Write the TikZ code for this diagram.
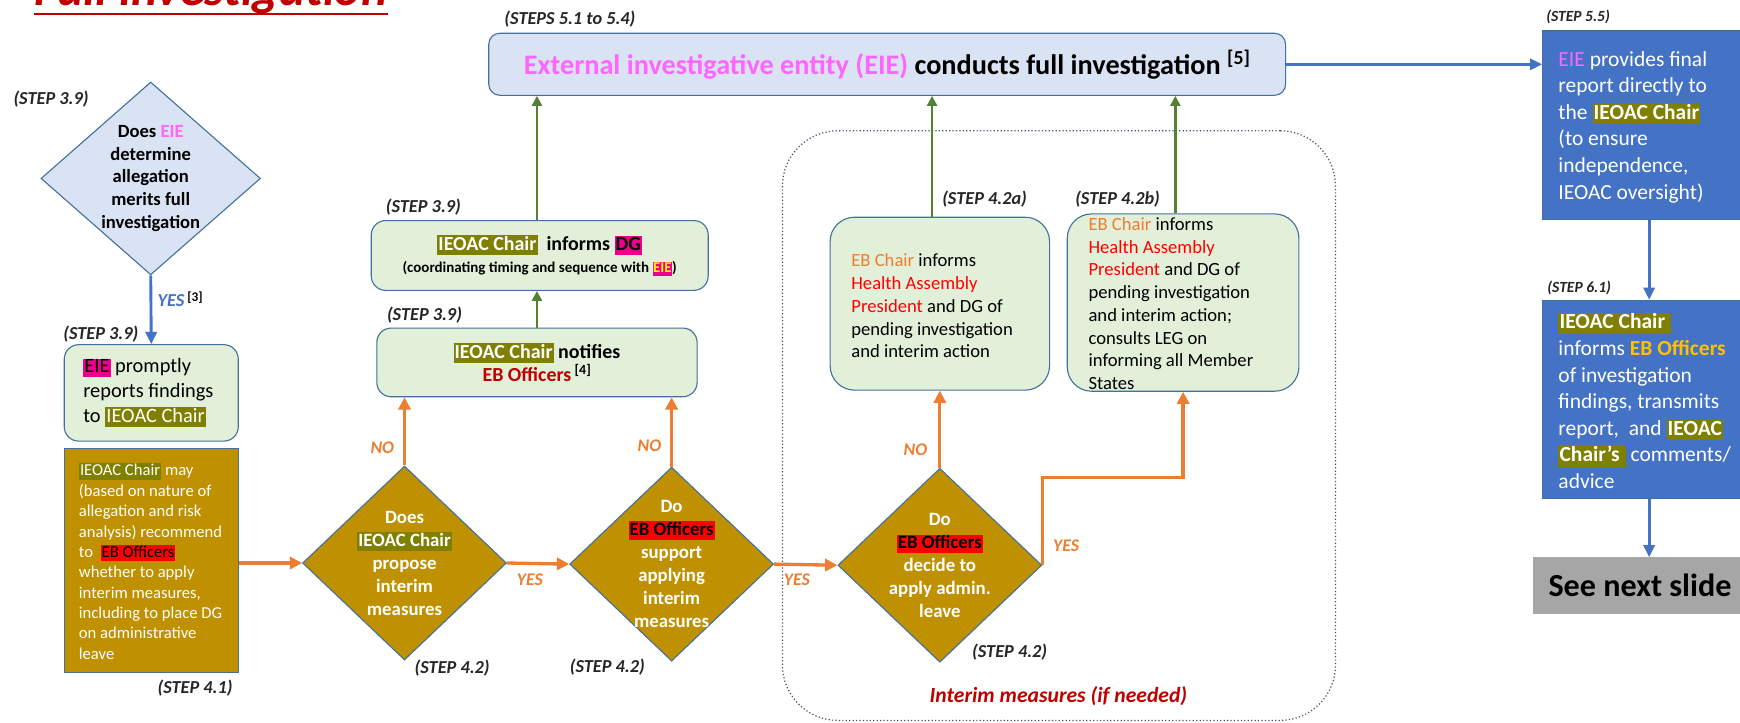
\documentclass[tikz,border=0pt]{standalone}
\usepackage{fontspec}
\setmainfont{Carlito}
\usepackage{graphicx}
\usetikzlibrary{shapes.geometric,arrows.meta}
\definecolor{lightblue}{HTML}{DAE3F3}
\definecolor{edgeblue}{HTML}{41719C}
\definecolor{boxgreen}{HTML}{E2F0D9}
\definecolor{brownf}{HTML}{BF9000}
\definecolor{hlolive}{HTML}{7F7F00}
\definecolor{eiepink}{HTML}{FF66FF}
\definecolor{darkred}{HTML}{C00000}
\definecolor{orng}{HTML}{ED7D31}
\definecolor{grn}{HTML}{548235}
\definecolor{blu}{HTML}{4472C4}
\definecolor{greyf}{HTML}{A6A6A6}
\definecolor{goldc}{HTML}{FFC000}
\definecolor{dotc}{HTML}{44546A}
\newcommand{\hlO}[1]{{\setlength{\fboxsep}{1pt}\colorbox{hlolive}{\vphantom{Ag}\textcolor{white}{#1}}}}
\newcommand{\hlM}[1]{{\setlength{\fboxsep}{1pt}\colorbox{magenta}{\vphantom{Ag}\textcolor{black}{#1}}}}
\newcommand{\hlR}[1]{{\setlength{\fboxsep}{1pt}\colorbox{red}{\vphantom{Ag}\textcolor{black}{#1}}}}
\newcommand{\hlY}[1]{{\setlength{\fboxsep}{0.5pt}\colorbox{magenta}{\vphantom{Ag}\textcolor{yellow}{#1}}}}
\tikzset{
 steplbl/.style={anchor=west, inner sep=0pt, font=\fontsize{16.5}{19}\selectfont\bfseries\itshape, text=black!85},
 stepsm/.style={anchor=west, inner sep=0pt, font=\fontsize{14}{17}\selectfont\bfseries\itshape, text=black!85},
 ansO/.style={inner sep=0pt, font=\fontsize{16}{19}\selectfont\bfseries\itshape, text=orng},
 gbox/.style={draw=edgeblue, fill=boxgreen, line width=1pt, rounded corners=13pt, inner sep=0pt},
 bbox/.style={draw=edgeblue, fill=blu, line width=1pt, inner sep=0pt},
 dblue/.style={diamond, draw=edgeblue, fill=lightblue, line width=1pt, inner sep=0pt, minimum width=198pt, minimum height=174pt},
 dbrown/.style={diamond, draw=edgeblue, fill=brownf, line width=1pt, inner sep=0pt, minimum width=184pt, minimum height=175pt},
 dtxt/.style={align=center, inner sep=0pt, font=\fontsize{17}{20.7}\selectfont\bfseries, text=white},
 ltxt/.style={anchor=west, align=left, inner sep=0pt},
 oarrow/.style={draw=orng, line width=3pt, -{Triangle[length=11pt,width=11pt]}},
 garrow/.style={draw=grn, line width=2.2pt, -{Triangle[length=9pt,width=9pt]}},
 barrow/.style={draw=blu, line width=2.6pt, -{Triangle[length=11pt,width=10pt]}},
}
\begin{document}
\begin{tikzpicture}[x=1pt,y=-1pt]
\useasboundingbox (0,0) rectangle (1570,651.5);
\clip (0,0) rectangle (1570,651.5);
\fill[white] (0,0) rectangle (1570,651.5);

% title (cut off by the page top, as in the reference)
\node[anchor=base west, inner sep=0pt, font=\fontsize{45}{52}\selectfont\bfseries\itshape, text=darkred] (title) at (31,5) {Full investigation};
\draw[darkred, line width=2.2pt] ([yshift=-7.5pt]title.base west) -- ([yshift=-7.5pt]title.base east);

% interim measures frame
\node[draw=dotc, dotted, line width=1.1pt, rounded corners=50pt, minimum width=499pt, minimum height=532pt, inner sep=0pt] (im) at (955.5,384) {};
\node[inner sep=0pt, font=\fontsize{19.5}{23}\selectfont\bfseries\itshape, text=darkred] (imlbl) at (955,628) {Interim measures (if needed)};

% top box
\node[draw=edgeblue, fill=lightblue, line width=1pt, rounded corners=10pt, minimum width=719pt, minimum height=56pt, inner sep=0pt, font=\fontsize{25.5}{30}\selectfont\bfseries] (T) at (800.5,58) {{\color{eiepink}External investigative entity (EIE)} conducts full investigation \textsuperscript{[5]}};
\node[stepsm, font=\fontsize{16.5}{19}\selectfont\bfseries\itshape] (sT) at (455,17) {(STEPS 5.1 to 5.4)};

% diamond 1
\node[dblue] (d1) at (136,161) {};
\node[dtxt, text=black, font=\fontsize{16.8}{20.5}\selectfont\bfseries] (d1t) at (136,161) {Does {\color{eiepink}EIE}\\determine\\allegation\\merits full\\investigation};
\node[steplbl] (sd1) at (12,89) {(STEP 3.9)};

% EIE box
\node[gbox, minimum width=157pt, minimum height=87pt] (e1) at (136.5,354.5) {};
\node[ltxt, font=\fontsize{18.4}{22.5}\selectfont] (e1t) at (75,354.5) {\hlM{EIE} promptly\\reports findings\\to \hlO{IEOAC Chair}};
\node[steplbl] (se1) at (57,301) {(STEP 3.9)};

% brown box
\node[draw=edgeblue, fill=brownf, line width=1pt, minimum width=157pt, minimum height=202pt, inner sep=0pt] (b1) at (136.5,506) {};
\node[ltxt, text=white, font=\fontsize{15}{18.4}\selectfont] (b1t) at (71,506.5) {\hlO{IEOAC Chair} may\\(based on nature of\\allegation and risk\\analysis) recommend\\to\ \ \hlR{EB Officers}\\whether to apply\\interim measures,\\including to place DG\\on administrative\\leave};
\node[steplbl] (sb1) at (142,621) {(STEP 4.1)};

% decision diamonds
\node[dbrown] (d2) at (365,508) {};
\node[dtxt] (d2t) at (365,508.5) {Does\\\hlO{IEOAC Chair}\\propose\\interim\\measures};
\node[steplbl] (sd2) at (374,603) {(STEP 4.2)};

\node[dbrown] (d3) at (606,509) {};
\node[dtxt] (d3t) at (606,509) {Do\\\hlR{EB Officers}\\support\\applying\\interim\\measures};
\node[steplbl] (sd3) at (514,602) {(STEP 4.2)};

\node[dbrown] (d4) at (848,510) {};
\node[dtxt] (d4t) at (848,510.5) {Do\\\hlR{EB Officers}\\decide to\\apply admin.\\leave};
\node[steplbl] (sd4) at (877,588) {(STEP 4.2)};

% notifies / informs DG
\node[gbox, minimum width=289pt, minimum height=62pt, align=center, font=\fontsize{18}{21}\selectfont\bfseries] (n1) at (484.5,327) {\hlO{IEOAC Chair} notifies\\{\color{darkred}EB Officers}\,\textsuperscript{[4]}};
\node[steplbl] (sn1) at (349,284) {(STEP 3.9)};
\node[gbox, minimum width=304pt, minimum height=63pt, align=center, font=\fontsize{13.5}{20}\selectfont\bfseries] (g1) at (487,230.5) {{\fontsize{18}{20}\selectfont\hlO{IEOAC Chair}\ \ informs \hlM{DG}}\\(coordinating timing and sequence with \hlY{EIE})};
\node[steplbl] (sg1) at (348,187) {(STEP 3.9)};

% 4.2a / 4.2b
\node[gbox, rounded corners=22pt, minimum width=198pt, minimum height=156pt] (a1) at (848,274) {};
\node[ltxt, font=\fontsize{16.8}{20.5}\selectfont] (a1t) at (768,276) {{\color{orng}EB Chair} informs\\{\color{red}Health Assembly}\\{\color{red}President} and DG of\\pending investigation\\and interim action};
\node[steplbl] (sa1) at (850,180) {(STEP 4.2a)};
\node[gbox, rounded corners=22pt, minimum width=209pt, minimum height=160pt] (b2) at (1067.5,273) {};
\node[ltxt, font=\fontsize{16.8}{20.5}\selectfont] (b2t) at (982,274) {{\color{orng}EB Chair} informs\\{\color{red}Health Assembly}\\{\color{red}President} and DG of\\pending investigation\\and interim action;\\consults LEG on\\informing all Member\\States};
\node[steplbl] (sb2) at (970,180) {(STEP 4.2b)};

% right column
\node[bbox, minimum width=192pt, minimum height=170pt] (p1) at (1488,113) {};
\node[ltxt, text=white, font=\fontsize{19.4}{24}\selectfont] (p1t) at (1406,114.5) {{\color{eiepink}EIE} provides final\\report directly to\\the \hlO{\textbf{IEOAC Chair}}\\(to ensure\\independence,\\IEOAC oversight)};
\node[stepsm] (sp1) at (1395,15) {(STEP 5.5)};
\node[bbox, minimum width=192pt, minimum height=179pt] (p2) at (1488,360.5) {};
\node[ltxt, text=white, font=\fontsize{19.4}{24}\selectfont] (p2t) at (1406,361.5) {\hlO{\textbf{IEOAC Chair}\ }\\informs {\color{goldc}\textbf{EB Officers}}\\of investigation\\findings, transmits\\report,\ \ and \hlO{\textbf{IEOAC}}\\\hlO{\textbf{Chair’s}\ } comments/\\advice};
\node[stepsm] (sp2) at (1396,260) {(STEP 6.1)};
\node[fill=greyf, minimum width=200pt, minimum height=51pt, inner sep=0pt] (nx) at (1483,528.5) {};
\node[ltxt, font=\fontsize{29}{34}\selectfont\bfseries] (nxt) at (1397,528.5) {See next slide};

% connectors
\draw[barrow] (d1.south) -- (e1.north);
\node[anchor=west, inner sep=0pt, font=\fontsize{16.5}{19}\selectfont\bfseries] (yes0) at (142,270) {\textcolor{blu}{\itshape YES}\,\raisebox{4pt}{\fontsize{12}{14}\selectfont [3]}};
\draw[oarrow] (b1.east |- d2.west) -- (d2.west);
\draw[oarrow] (d2.east) -- (d3.west);
\node[ansO] (yes1) at (478,523) {YES};
\draw[oarrow] (d3.east) -- (d4.west);
\node[ansO] (yes2) at (719,523) {YES};
\draw[oarrow] (d2.north) -- (d2.north |- n1.south);
\node[ansO] (no1) at (345,404) {NO};
\draw[oarrow] (d3.north) -- (d3.north |- n1.south);
\node[ansO] (no2) at (586,402) {NO};
\draw[oarrow] (d4.north) -- (d4.north |- a1.south);
\node[ansO] (no3) at (826,406) {NO};
\draw[oarrow] (d4.east) -- ++(0,-79) -| (b2.south);
\node[ansO] (yes3) at (962,492) {YES};
\draw[garrow] (n1.north) -- (n1.north |- g1.south);
\draw[garrow] (n1.north |- g1.north) -- (n1.north |- T.south);
\draw[garrow] ([xshift=-7pt]a1.north) -- ([xshift=-7pt]a1.north |- T.south);
\draw[garrow] ([xshift=-7pt]b2.north) -- ([xshift=-7pt]b2.north |- T.south);
\draw[barrow] (T.east) -- (T.east -| p1.west);
\draw[barrow] (p1.south) -- (p2.north);
\draw[barrow] (p2.south) -- (p2.south |- nx.north);
\end{tikzpicture}
\end{document}
